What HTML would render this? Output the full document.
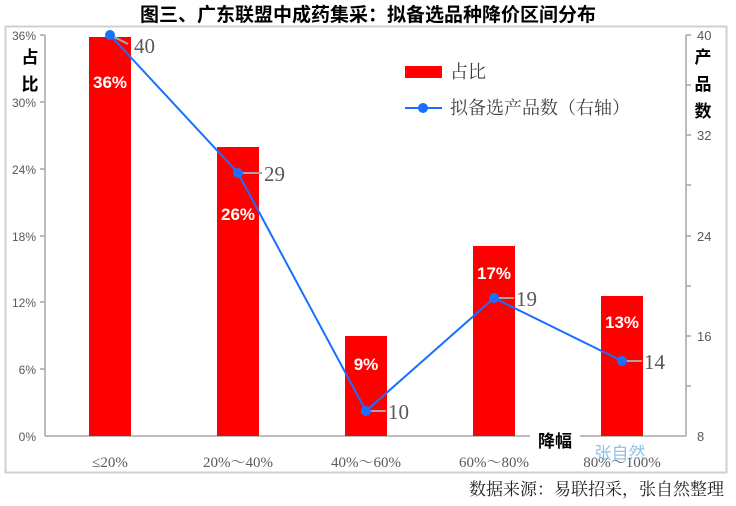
<!DOCTYPE html>
<html><head><meta charset="utf-8"><style>
body{margin:0;background:#fff;}
svg text{font-family:"Liberation Sans","Noto Sans CJK SC",sans-serif;}
.sf{font-family:"Liberation Serif","Noto Serif CJK SC",serif !important;}
</style></head><body>
<svg width="736" height="501" xmlns="http://www.w3.org/2000/svg">
<rect x="0" y="0" width="736" height="501" fill="#fff"/>
<text x="368" y="21" text-anchor="middle" font-size="19" font-weight="bold" fill="#000">图三、广东联盟中成药集采：拟备选品种降价区间分布</text>
<rect x="5.5" y="26.5" width="721" height="446" fill="none" stroke="#d0d0d0" stroke-width="2"/>
<g stroke="#a6a6a6" stroke-width="1.5" fill="none">
<line x1="45" y1="35" x2="45" y2="436"/>
<line x1="40" y1="35" x2="45" y2="35"/><line x1="40" y1="102" x2="45" y2="102"/><line x1="40" y1="169" x2="45" y2="169"/><line x1="40" y1="236" x2="45" y2="236"/><line x1="40" y1="302" x2="45" y2="302"/><line x1="40" y1="369" x2="45" y2="369"/>
<line x1="45" y1="436" x2="686" y2="436"/>
<line x1="686" y1="35" x2="686" y2="436"/>
<line x1="686" y1="35" x2="691" y2="35"/><line x1="686" y1="85" x2="691" y2="85"/><line x1="686" y1="135" x2="691" y2="135"/><line x1="686" y1="185" x2="691" y2="185"/><line x1="686" y1="236" x2="691" y2="236"/><line x1="686" y1="286" x2="691" y2="286"/><line x1="686" y1="336" x2="691" y2="336"/><line x1="686" y1="386" x2="691" y2="386"/>
</g>
<g font-size="12" fill="#595959" text-anchor="end">
<text x="36" y="40">36%</text><text x="36" y="107">30%</text><text x="36" y="174">24%</text><text x="36" y="241">18%</text><text x="36" y="307">12%</text><text x="36" y="374">6%</text><text x="36" y="441">0%</text>
</g>
<g font-size="13" fill="#595959">
<text x="697" y="40">40</text><text x="697" y="140">32</text><text x="697" y="241">24</text><text x="697" y="341">16</text><text x="697" y="441">8</text>
</g>
<text x="30" y="63" text-anchor="middle" font-size="17" font-weight="bold">占</text>
<text x="30" y="90" text-anchor="middle" font-size="17" font-weight="bold">比</text>
<text x="703" y="63" text-anchor="middle" font-size="17" font-weight="bold">产</text>
<text x="703" y="90" text-anchor="middle" font-size="17" font-weight="bold">品</text>
<text x="703" y="117" text-anchor="middle" font-size="17" font-weight="bold">数</text>
<g fill="#ff0000">
<rect x="89" y="37" width="42" height="399"/>
<rect x="217" y="147" width="42" height="289"/>
<rect x="345" y="336" width="42" height="100"/>
<rect x="473" y="246" width="42" height="190"/>
<rect x="601" y="296" width="42" height="140"/>
</g>
<g font-size="17" font-weight="bold" fill="#fff" text-anchor="middle">
<text x="110" y="88">36%</text><text x="238" y="220">26%</text><text x="366" y="370">9%</text><text x="494" y="279">17%</text><text x="622" y="328">13%</text>
</g>
<g stroke="#a6a6a6" stroke-width="2">
<line x1="110" y1="35" x2="128" y2="44"/><line x1="238" y1="173" x2="262" y2="173"/><line x1="366" y1="411" x2="386" y2="411"/><line x1="494" y1="298" x2="514" y2="298"/><line x1="622" y1="361" x2="642" y2="361"/>
</g>
<polyline points="110,35 238,173 366,411 494,298 622,361" fill="none" stroke="#1a6fff" stroke-width="2"/>
<g fill="#1a6fff"><circle cx="110" cy="35" r="5"/><circle cx="238" cy="173" r="5"/><circle cx="366" cy="411" r="5"/><circle cx="494" cy="298" r="5"/><circle cx="622" cy="361" r="5"/></g>
<g font-size="21" fill="#595959">
<text class="sf" x="134" y="53">40</text><text class="sf" x="264" y="181">29</text><text class="sf" x="388" y="419">10</text><text class="sf" x="516" y="306">19</text><text class="sf" x="644" y="369">14</text>
</g>
<rect x="405" y="66" width="37" height="12" fill="#ff0000"/>
<text class="sf" x="450" y="78" font-size="18" fill="#404040">占比</text>
<line x1="405" y1="108" x2="442" y2="108" stroke="#1a6fff" stroke-width="2"/>
<circle cx="423" cy="108" r="5" fill="#1a6fff"/>
<text class="sf" x="450" y="114" font-size="18" fill="#404040">拟备选产品数（右轴）</text>
<g font-size="15" fill="#595959" text-anchor="middle">
<text class="sf" x="110" y="467">≤20%</text><text class="sf" x="238" y="467">20%～40%</text><text class="sf" x="366" y="467">40%～60%</text><text class="sf" x="494" y="467">60%～80%</text><text class="sf" x="622" y="467">80%～100%</text>
</g>
<rect x="530" y="430" width="50" height="20" fill="#fff"/>
<text x="555" y="447" text-anchor="middle" font-size="17" font-weight="bold">降幅</text>
<text x="620" y="459" text-anchor="middle" font-size="17" fill="#6fb6e8" opacity="0.8">张自然</text>
<text class="sf" x="724" y="495" text-anchor="end" font-size="17" fill="#222">数据来源：易联招采，张自然整理</text>
</svg>
</body></html>
